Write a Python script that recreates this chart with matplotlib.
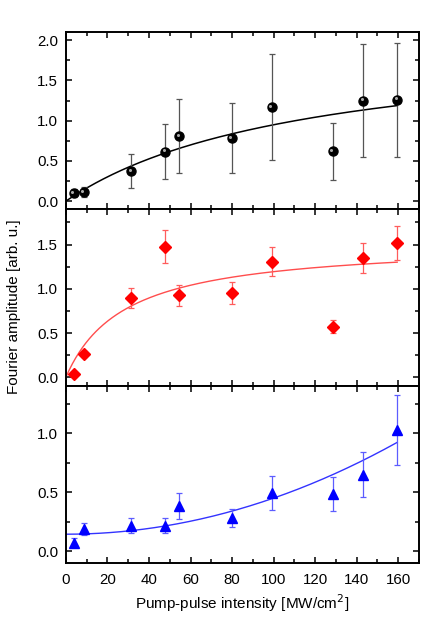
import numpy as np
import matplotlib
matplotlib.use("Agg")
import matplotlib.pyplot as plt
from matplotlib.ticker import MultipleLocator, FormatStrFormatter
from matplotlib.transforms import offset_copy

plt.rcParams['font.family'] = ['Liberation Sans', 'DejaVu Sans']

# ---- data ----
intensity = [3.8, 8.6, 31.5, 47.7, 54.7, 79.8, 99.0, 128.5, 143.0, 159.5]

amp_top = [0.10, 0.115, 0.37, 0.615, 0.81, 0.785, 1.17, 0.62, 1.25, 1.26]
err_top = [0.045, 0.06, 0.21, 0.345, 0.46, 0.44, 0.66, 0.355, 0.70, 0.705]

amp_mid = [0.035, 0.265, 0.893, 1.477, 0.927, 0.953, 1.307, 0.573, 1.352, 1.518]
err_mid = [0.015, 0.03, 0.115, 0.185, 0.117, 0.12, 0.166, 0.074, 0.168, 0.192]

amp_bot = [0.074, 0.19, 0.218, 0.218, 0.385, 0.283, 0.497, 0.486, 0.65, 1.029]
err_bot = [0.04, 0.052, 0.062, 0.063, 0.11, 0.075, 0.143, 0.142, 0.188, 0.30]

# fit parameters
fit_top = (2.054, 116.3)      # A*x/(x+B)
fit_mid = (1.533, 28.4)       # A*x/(x+B)
fit_bot = (0.145, 3.06e-5)    # y0 + c*x^2
fit_xmax = 159.5

xticks = [0, 20, 40, 60, 80, 100, 120, 140, 160]

TICK_FS = 10.8
LABEL_FS = 11

fig = plt.figure(figsize=(4.42, 6.32), dpi=100)
gs = fig.add_gridspec(3, 1, left=0.149, right=0.948, top=0.949, bottom=0.109, hspace=0)
axs = [fig.add_subplot(gs[i]) for i in range(3)]

xf = np.linspace(0, fit_xmax, 300)

def style(ax, ylim, show_x):
    ax.set_xlim(0, 170)
    ax.set_ylim(*ylim)
    ax.xaxis.set_major_locator(MultipleLocator(20))
    ax.xaxis.set_minor_locator(MultipleLocator(10))
    ax.yaxis.set_major_locator(MultipleLocator(0.5))
    ax.yaxis.set_minor_locator(MultipleLocator(0.25))
    ax.tick_params(which='both', direction='in', top=True, right=True, width=1.1,
                   labelsize=TICK_FS, colors='black')
    ax.tick_params(which='major', length=4.5)
    ax.tick_params(which='minor', length=2.6)
    ax.tick_params(axis='y', which='major', pad=5.5)
    ax.tick_params(axis='x', which='major', pad=7.0)
    for s in ax.spines.values():
        s.set_linewidth(1.4)
    if not show_x:
        ax.tick_params(labelbottom=False)
    ax.yaxis.set_major_formatter(FormatStrFormatter('%.1f'))

# top panel
ax = axs[0]
A, B = fit_top
ax.plot(xf, A * xf / (xf + B), color='black', lw=1.1, zorder=2)
ax.errorbar(intensity, amp_top, yerr=err_top, fmt='none', ecolor='#555555',
            elinewidth=0.9, capsize=2.5, capthick=0.9, zorder=3)
ax.plot(intensity, amp_top, 'o', color='black', ms=6.5, zorder=4)
hl = offset_copy(ax.transData, fig=fig, x=-1.0, y=1.0, units='points')
ax.plot(intensity, amp_top, 'o', color='#bdbdbd', ms=2.2, mew=0, alpha=0.9,
        transform=hl, zorder=5)
style(ax, (-0.1, 2.1), False)

# middle panel
ax = axs[1]
A, B = fit_mid
ax.plot(xf, A * xf / (xf + B), color='#ff4d4d', lw=1.0, zorder=2)
ax.errorbar(intensity, amp_mid, yerr=err_mid, fmt='none', ecolor='#ff5c5c',
            elinewidth=0.9, capsize=2.5, capthick=0.9, zorder=3)
ax.plot(intensity, amp_mid, 'D', color='#ff0000', ms=6, zorder=4)
style(ax, (-0.1, 1.9), False)

# bottom panel
ax = axs[2]
y0, c = fit_bot
ax.plot(xf, y0 + c * xf ** 2, color='#3333ff', lw=1.0, zorder=2)
ax.errorbar(intensity, amp_bot, yerr=err_bot, fmt='none', ecolor='#5c5cff',
            elinewidth=0.9, capsize=2.5, capthick=0.9, zorder=3)
ax.plot(intensity, amp_bot, '^', color='#0000ff', ms=7, zorder=4)
style(ax, (-0.1, 1.4), True)
ax.set_xticks(xticks)
ax.xaxis.set_major_formatter(FormatStrFormatter('%d'))
ax.set_xlabel('Pump-pulse intensity [MW/cm$^2$]', fontsize=LABEL_FS, labelpad=4)

fig.text(0.032, 0.514, 'Fourier amplitude [arb. u.]', rotation=90,
         va='center', ha='center', fontsize=LABEL_FS)

fig.savefig('out.png', dpi=100)
